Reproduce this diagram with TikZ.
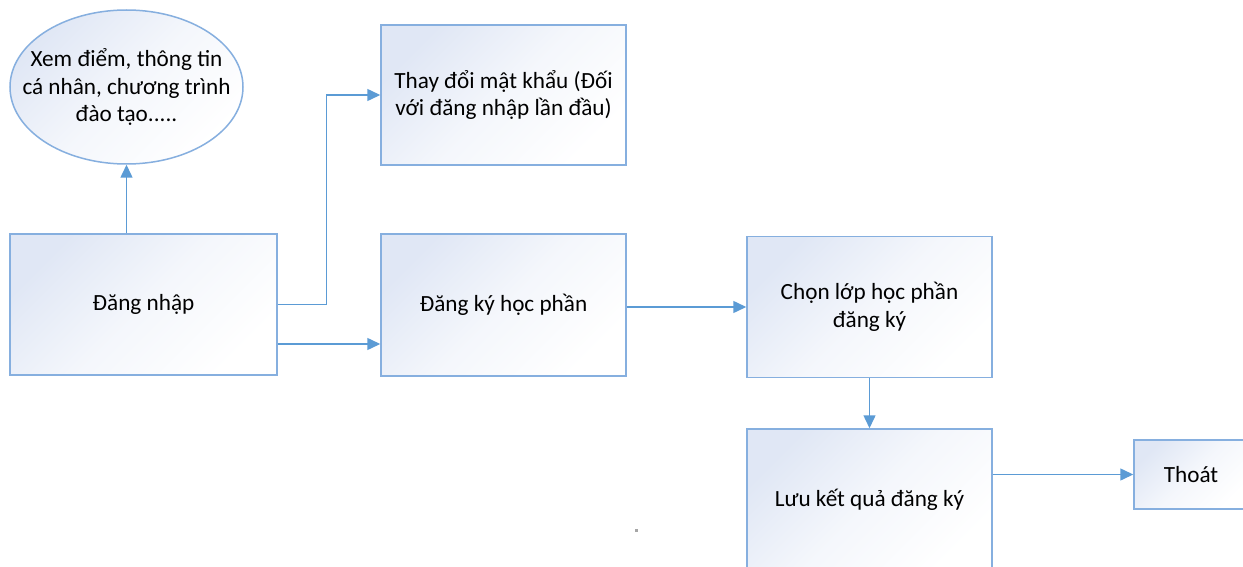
\documentclass[tikz,border=0pt]{standalone}
\usepackage{fontspec}
\setmainfont{Carlito}
\usetikzlibrary{arrows.meta,shapes.geometric,calc}
\definecolor{boxedge}{HTML}{86AFDF}
\definecolor{boxtint}{HTML}{E0E7F5}
\definecolor{arrowblue}{HTML}{5B9BD5}
\tikzset{
  flowbox/.style={draw=boxedge, line width=1.5pt, shading=axis, top color=boxtint, bottom color=white, middle color=white!65!boxtint, shading angle=45,
    rectangle, inner sep=0pt, align=center, font=\fontsize{23.2}{27.8}\selectfont, text=black},
  flowell/.style={flowbox, ellipse, inner xsep=-32pt, inner ysep=0pt},
  arr/.style={draw=arrowblue, line width=1.5pt, -{Triangle[length=13pt,width=12pt]}}
}
\begin{document}
\begin{tikzpicture}[x=1pt,y=-1pt]
\useasboundingbox (0,0) rectangle (1243,567);
\clip (0,0) rectangle (1243,567);
\fill[white] (0,0) rectangle (1243,567);

\node[flowell, minimum width=233pt, minimum height=154pt] (ell) at (126.5,87) {Xem điểm, thông tin\\cá nhân, chương trình\\đào tạo.....};
\node[flowbox, minimum width=267pt, minimum height=141pt] (login) at (143.5,304.5) {Đăng nhập};
\node[flowbox, minimum width=245pt, minimum height=140pt] (pwd) at (503.5,95) {Thay đổi mật khẩu (Đối\\với đăng nhập lần đầu)};
\node[flowbox, minimum width=245pt, minimum height=142pt] (reg) at (503.5,305) {Đăng ký học phần};
\node[flowbox, minimum width=245pt, minimum height=141pt] (choose) at (869.5,307) {Chọn lớp học phần\\đăng ký};
\node[flowbox, minimum width=245pt, minimum height=142pt] (save) at (869.5,500) {Lưu kết quả đăng ký};
\node[flowbox, minimum width=114pt, minimum height=69pt] (exit) at (1191,474.5) {Thoát};

\draw[arr] (ell.south |- login.north) -- (ell.south);
\draw[arr] (login.east) -- ++(48.5,0) |- (pwd.west);
\coordinate (l2) at ([yshift=-39.5pt]login.east);
\draw[arr] (l2) -- (l2 -| reg.west);
\draw[arr] (choose.west -| reg.east) -- (choose.west);
\draw[arr] (choose.south) -- (save.north);
\draw[arr] (exit.west -| save.east) -- (exit.west);

\fill[gray!70] (634.5,528.5) rectangle (637.5,531.5);
\end{tikzpicture}
\end{document}
